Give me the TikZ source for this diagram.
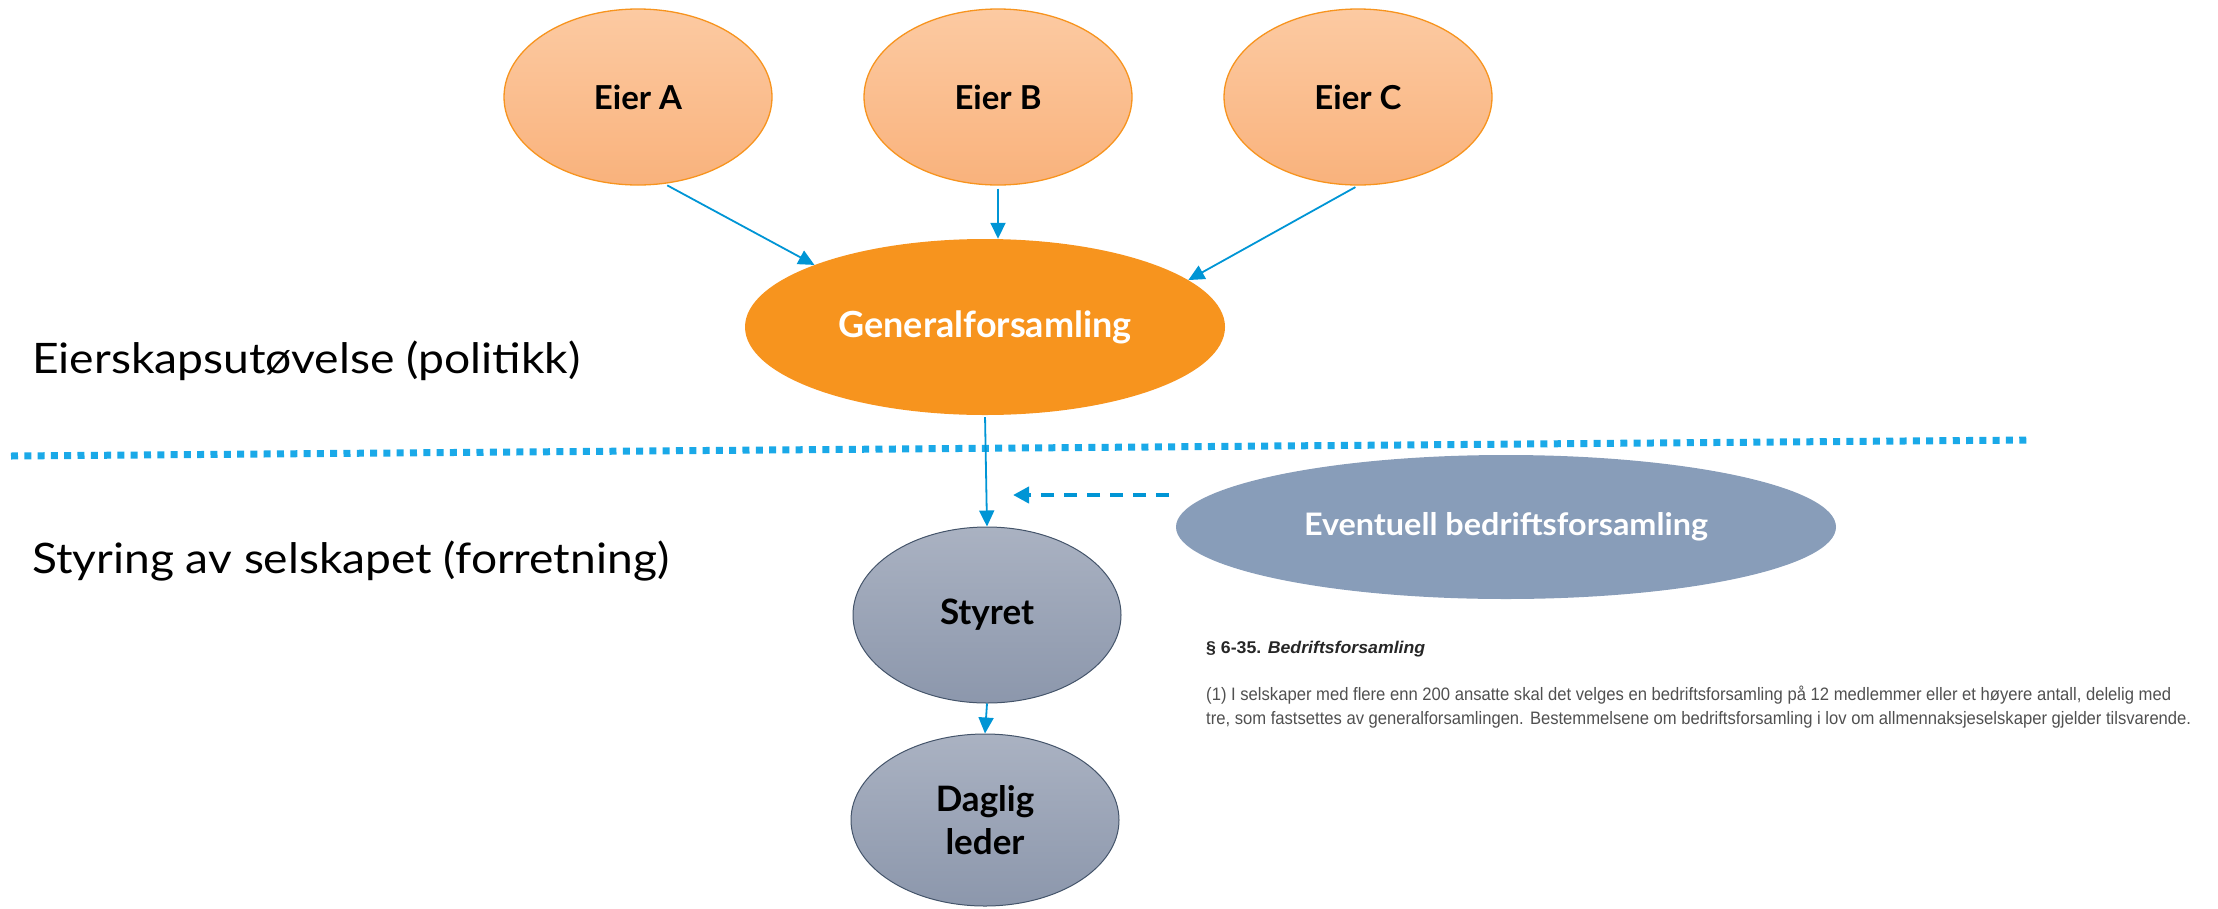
\documentclass[tikz,border=0pt]{standalone}
\usepackage{fontspec}
\usepackage{graphicx}
\usetikzlibrary{arrows.meta,shapes.geometric}
\newfontfamily\lato{Lato}
\newfontfamily\latobold{Lato Bold}
\newfontfamily\arialfont{Liberation Sans}
\definecolor{arrowblue}{RGB}{0,149,213}
\definecolor{dotblue}{RGB}{26,169,232}
\definecolor{eiertop}{RGB}{252,202,162}
\definecolor{eierbot}{RGB}{249,178,124}
\definecolor{eierline}{RGB}{247,148,30}
\definecolor{gforange}{RGB}{247,148,30}
\definecolor{stytop}{RGB}{170,178,194}
\definecolor{stybot}{RGB}{140,151,172}
\definecolor{styline}{RGB}{68,84,106}
\definecolor{evfill}{RGB}{136,157,185}
\definecolor{lawgray}{RGB}{80,80,80}
\tikzset{
  eier/.style={ellipse, minimum width=268pt, minimum height=176pt, inner sep=0pt,
    top color=eiertop, bottom color=eierbot, draw=eierline, line width=1.3pt,
    font=\latobold\fontsize{33}{36}\selectfont},
  gfnode/.style={ellipse, minimum width=480pt, minimum height=176pt, inner sep=0pt,
    fill=gforange, text=white, font=\latobold\fontsize{36}{40}\selectfont},
  grey/.style={ellipse, minimum width=268pt, minimum height=176pt, inner sep=0pt,
    top color=stytop, bottom color=stybot, draw=styline, line width=1pt,
    align=center, font=\latobold\fontsize{35}{43}\selectfont},
  evnode/.style={ellipse, minimum width=660pt, minimum height=144pt, inner sep=0pt,
    fill=evfill, text=white, font=\latobold\fontsize{31}{34}\selectfont},
  conn/.style={draw=arrowblue, line width=1.8pt, -{Triangle[length=16pt,width=15pt]}},
  dashconn/.style={draw=arrowblue, line width=4pt, dash pattern=on 13pt off 10pt,
    -{Triangle[length=16pt,width=16pt]}},
  divider/.style={draw=dotblue, line width=7pt, dash pattern=on 7pt off 6.3pt},
  sidelabel/.style={anchor=base west, inner sep=0pt, font=\lato\fontsize{42}{46}\selectfont},
}
\begin{document}
\begin{tikzpicture}[x=1pt,y=-1pt]
\useasboundingbox (0,0) rectangle (2218,908);
% divider
\coordinate (l1) at (11,456);
\coordinate (l2) at (2030,440);
\draw[divider] (l1) -- (l2);
% nodes
\node[eier] (eA) at (638,97) {Eier A};
\node[eier] (eB) at (998,97) {Eier B};
\node[eier] (eC) at (1358,97) {Eier C};
\node[gfnode] (gf) at (985,327) {Generalforsamling};
\node[grey] (st) at (987,615) {Styret};
\node[grey, minimum height=172pt] (dl) at (985,820) {Daglig\\leder};
\node[evnode] (ev) at (1506,527) {\resizebox{404pt}{\height}{Eventuell bedriftsforsamling}};
% side labels
\node[sidelabel] (lab1) at (32,373) {\resizebox{548pt}{\height}{Eierskapsutøvelse (politikk)}};
\node[sidelabel] (lab2) at (32,573) {\resizebox{637pt}{\height}{Styring av selskapet (forretning)}};
% law text
\node[anchor=north west, inner sep=0pt, text=black!85,
  font=\arialfont\bfseries\fontsize{17}{20}\selectfont] (lawh) at (1206,641)
  {\resizebox{219pt}{\height}{§ 6-35. \itshape Bedriftsforsamling}};
\node[anchor=north west, inner sep=0pt, text=lawgray, align=left,
  font=\arialfont\fontsize{18}{24}\selectfont] (lawb) at (1206,686)
  {\resizebox{965pt}{\height}{(1) I selskaper med flere enn 200 ansatte skal det velges en bedriftsforsamling på 12 medlemmer eller et høyere antall, delelig med}\\
   \resizebox{985pt}{\height}{tre, som fastsettes av generalforsamlingen. Bestemmelsene om bedriftsforsamling i lov om allmennaksjeselskaper gjelder tilsvarende.}};
% connectors
\draw[conn, shorten <=3pt] (eA.-73) -- (gf.160);
\draw[conn, shorten <=3pt] (eB.south) -- (gf.north -| eB.south);
\draw[conn, shorten <=3pt] (eC.south) -- (gf.13);
\draw[conn, shorten <=2pt] (gf.south) -- (st.north);
\draw[conn] (st.south) -- (dl.north);
\coordinate (ds) at (1169,495);
\coordinate (de) at (1013,495);
\draw[dashconn] (ds) -- (de);
\end{tikzpicture}
\end{document}
